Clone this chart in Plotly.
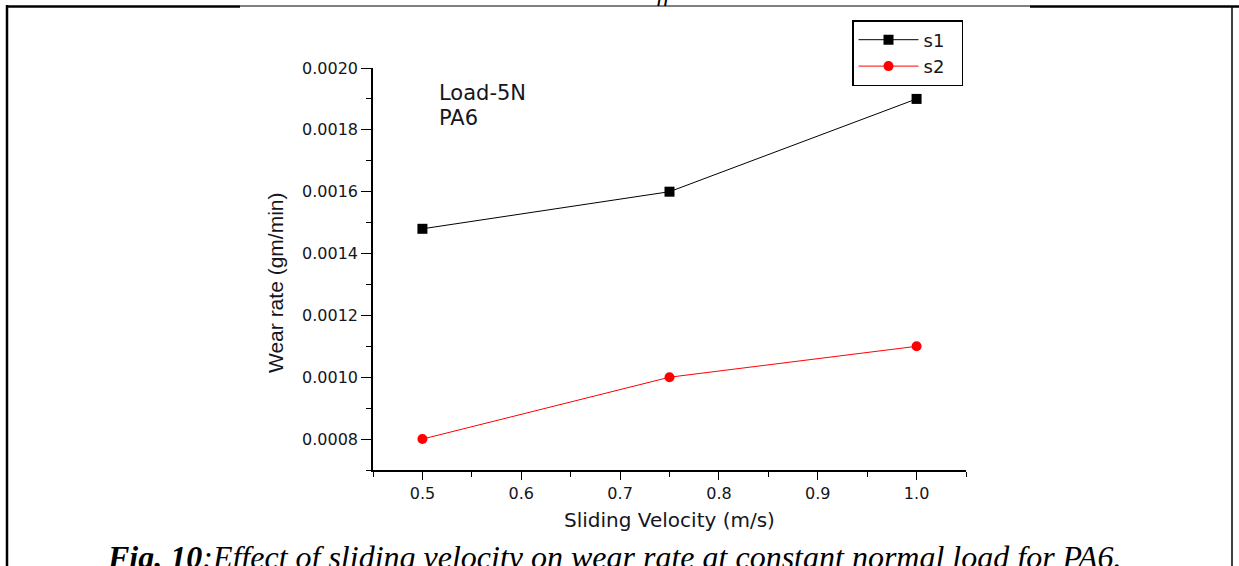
import plotly.graph_objects as go

velocity = [0.5, 0.75, 1.0]
s1_wear = [0.00148, 0.0016, 0.0019]
s2_wear = [0.0008, 0.0010, 0.0011]
series_names = ["s1", "s2"]
x_ticks = [0.5, 0.6, 0.7, 0.8, 0.9, 1.0]
y_ticks = [0.0008, 0.0010, 0.0012, 0.0014, 0.0016, 0.0018, 0.0020]

W, H = 1239, 566
L, R, T, B = 373, 966, 68, 470

def px(xp):
    return (xp - L) / (R - L)

def py(yp):
    return (B - yp) / (B - T)

fig = go.Figure()
fig.add_trace(go.Scatter(
    x=velocity, y=s1_wear, name=series_names[0] + "\u00a0\u00a0", mode="lines+markers",
    line=dict(color="black", width=1),
    marker=dict(symbol="square", size=10, color="black"),
))
fig.add_trace(go.Scatter(
    x=velocity, y=s2_wear, name=series_names[1] + "\u00a0\u00a0", mode="lines+markers",
    line=dict(color="#ff0000", width=1),
    marker=dict(symbol="circle", size=10, color="#ff0000"),
))

tick_font = dict(family="DejaVu Sans", size=16, color="#151520")
text_color = "#151520"

fig.update_xaxes(
    range=[0.45, 1.05], tickvals=x_ticks, ticktext=[f"{v:.1f}" for v in x_ticks],
    showgrid=False, zeroline=False, showline=True, linecolor="black", linewidth=1.6,
    ticks="outside", ticklen=8, tickwidth=1.3, tickcolor="black", tickfont=tick_font,
    minor=dict(dtick=0.05, tick0=0.45, ticks="outside", ticklen=5, tickwidth=1.3, tickcolor="black", showgrid=False),
    title=dict(text="Sliding Velocity (m/s)", font=dict(family="DejaVu Sans", size=20, color=text_color), standoff=11),
)
fig.update_yaxes(
    range=[0.0007, 0.0020], tickvals=y_ticks, ticktext=[f"{v:.4f}" for v in y_ticks],
    showgrid=False, zeroline=False, showline=True, linecolor="black", linewidth=1.6,
    ticks="outside", ticklen=10, tickwidth=1.3, tickcolor="black", tickfont=tick_font,
    minor=dict(dtick=0.0001, tick0=0.0007, ticks="outside", ticklen=5, tickwidth=1.3, tickcolor="black", showgrid=False),
)

annotations = [
    dict(x=px(275), y=py(283), xref="paper", yref="paper", xanchor="center", yanchor="middle",
         text="Wear rate (gm/min)", textangle=-90, showarrow=False,
         font=dict(family="Liberation Sans, Arial", size=21, color=text_color)),
    dict(x=px(437), y=py(93), xref="paper", yref="paper", xanchor="left", yanchor="middle",
         text="Load-5N", showarrow=False,
         font=dict(family="DejaVu Sans", size=21, color=text_color)),
    dict(x=px(437), y=py(118), xref="paper", yref="paper", xanchor="left", yanchor="middle",
         text="PA6", showarrow=False,
         font=dict(family="DejaVu Sans", size=21, color=text_color)),
    dict(x=px(614), y=py(557), xref="paper", yref="paper", xanchor="center", yanchor="middle",
         text="<b><i>Fig. 10</i></b><i>:Effect of sliding velocity on wear rate at constant normal load for PA6.</i>",
         showarrow=False,
         font=dict(family="Liberation Serif, Times New Roman", size=32, color="black")),
    dict(x=px(665), y=py(-7), xref="paper", yref="paper", xanchor="center", yanchor="middle",
         text="<i>ff</i>", showarrow=False,
         font=dict(family="Liberation Serif, Times New Roman", size=24, color="black")),
]

shapes = [
    dict(type="line", xref="paper", yref="paper", x0=px(7), x1=px(7), y0=py(5), y1=py(570),
         line=dict(color="black", width=2.5)),
    dict(type="line", xref="paper", yref="paper", x0=px(7), x1=px(240), y0=py(6.5), y1=py(6.5),
         line=dict(color="black", width=2.5)),
    dict(type="line", xref="paper", yref="paper", x0=px(240), x1=px(1030), y0=py(6), y1=py(6),
         line=dict(color="black", width=1)),
    dict(type="line", xref="paper", yref="paper", x0=px(1030), x1=px(1239), y0=py(6.5), y1=py(6.5),
         line=dict(color="black", width=2.5)),
    dict(type="line", xref="paper", yref="paper", x0=px(1232), x1=px(1232), y0=py(6), y1=py(570),
         line=dict(color="black", width=1.5)),
]

fig.update_layout(
    width=W, height=H,
    margin=dict(l=L, r=W - R, t=T, b=H - B),
    paper_bgcolor="white", plot_bgcolor="white",
    showlegend=True,
    legend=dict(
        x=px(852), y=py(20), xanchor="left", yanchor="top",
        bgcolor="white", bordercolor="black", borderwidth=1.5,
        font=dict(family="DejaVu Sans", size=18, color=text_color),
        itemwidth=60, tracegroupgap=0,
    ),
    annotations=annotations,
    shapes=shapes,
)

fig.write_html(
    "out.html",
    config={"displayModeBar": False},
    post_script="document.body.style.margin='0';document.body.style.padding='0';document.body.style.overflow='hidden';",
)
